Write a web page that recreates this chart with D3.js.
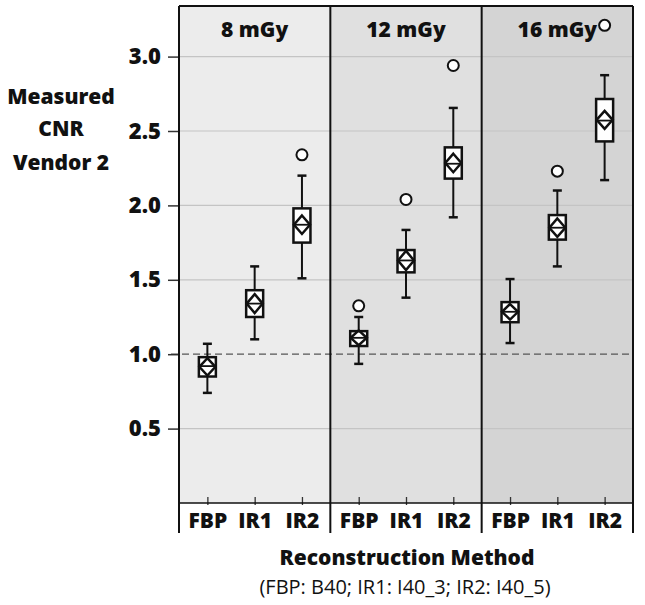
<!DOCTYPE html>
<html>
<head>
<meta charset="utf-8">
<script src="https://cdn.jsdelivr.net/npm/d3@7"></script>
<style>
  html, body { margin: 0; padding: 0; background: #fff; }
  svg { display: block; }
  text { font-family: "Open Sans", sans-serif; fill: #111; }
</style>
</head>
<body>
<svg id="chart" width="645" height="605"></svg>
<script>
// ---- data ----
const doses = ["8 mGy", "12 mGy", "16 mGy"];
const methods = ["FBP", "IR1", "IR2"];
const yTicks = [0.5, 1.0, 1.5, 2.0, 2.5, 3.0];
// per dose, per method (FBP, IR1, IR2)
const whiskerLow  = [[0.74, 1.10, 1.51], [0.935, 1.38, 1.92], [1.075, 1.59, 2.17]];
const q1          = [[0.85, 1.25, 1.75], [1.055, 1.55, 2.18], [1.215, 1.77, 2.43]];
const medians     = [[0.92, 1.34, 1.87], [1.11, 1.63, 2.28], [1.285, 1.85, 2.57]];
const q3          = [[0.98, 1.43, 1.98], [1.155, 1.70, 2.39], [1.35, 1.935, 2.715]];
const whiskerHigh = [[1.07, 1.59, 2.20], [1.25, 1.835, 2.655], [1.505, 2.10, 2.875]];
const means       = [[0.915, 1.34, 1.87], [1.11, 1.63, 2.285], [1.285, 1.85, 2.575]];
const ciHalf      = [[0.058, 0.064, 0.062], [0.05, 0.064, 0.062], [0.052, 0.062, 0.06]];
const outliers    = [[[], [], [2.34]], [[1.325], [2.04], [2.94]], [[], [2.23], [3.21]]];
const referenceLine = 1.0;

// ---- layout ----
const svg = d3.select("#chart");
const L = 179, R = 633, T = 6, B = 503, labelBottom = 533;
const panelBg = ["#ececec", "#e0e0e0", "#d4d4d4"];
const FONT = "'Open Sans', sans-serif";
const BOLD = 800;

const x = d3.scaleBand().domain(doses).range([L, R]).padding(0);
const xi = d3.scalePoint().domain(methods).range([0, x.bandwidth()]).padding(0.6);
const y = d3.scaleLinear().domain([0, 3.34]).range([B, T]);

svg.selectAll("rect.bg").data(doses).join("rect")
  .attr("class", "bg")
  .attr("x", d => x(d)).attr("y", T)
  .attr("width", x.bandwidth()).attr("height", B - T)
  .attr("fill", (d, i) => panelBg[i]);

svg.selectAll("line.grid").data(yTicks.filter(t => t !== referenceLine)).join("line")
  .attr("class", "grid")
  .attr("x1", L).attr("x2", R)
  .attr("y1", d => y(d)).attr("y2", d => y(d))
  .attr("stroke", "#c4c4c4").attr("stroke-width", 1.2);

svg.append("line")
  .attr("x1", L - 8).attr("x2", R)
  .attr("y1", y(referenceLine)).attr("y2", y(referenceLine))
  .attr("stroke", "#555").attr("stroke-width", 1.2)
  .attr("stroke-dasharray", "7,4");

const yAxis = d3.axisLeft(y).tickValues(yTicks).tickFormat(d3.format(".1f"))
  .tickSize(11).tickPadding(7);
const gy = svg.append("g").attr("transform", `translate(${L},0)`).call(yAxis);
gy.select(".domain").remove();
gy.selectAll(".tick line").attr("stroke", "#333").attr("stroke-width", 1.5);
gy.selectAll(".tick text")
  .style("font-family", FONT).style("font-size", "22px")
  .style("font-weight", BOLD).attr("fill", "#111");

doses.forEach((dose, di) => {
  const g = svg.append("g").attr("transform", `translate(${x(dose)},0)`);
  g.append("text")
    .attr("x", x.bandwidth() / 2).attr("y", 37)
    .attr("text-anchor", "middle")
    .style("font-size", "21px").style("font-weight", BOLD)
    .text(dose);

  const xAxis = d3.axisBottom(xi).tickSize(0).tickPadding(10);
  const gx = g.append("g").attr("transform", `translate(0,${B})`).call(xAxis);
  gx.select(".domain").remove();
  gx.selectAll(".tick text")
    .style("font-family", FONT).style("font-size", "21px")
    .style("font-weight", BOLD).attr("fill", "#111");
  gx.selectAll(".tick").append("line")
    .attr("y1", -6).attr("y2", 2).attr("stroke", "#333").attr("stroke-width", 1.3);

  const boxW = 17, capW = 9;
  methods.forEach((m, mi) => {
    const cx = xi(m);
    const bg = g.append("g");
    bg.append("line")
      .attr("x1", cx).attr("x2", cx)
      .attr("y1", y(whiskerLow[di][mi])).attr("y2", y(whiskerHigh[di][mi]))
      .attr("stroke", "#111").attr("stroke-width", 2);
    [whiskerLow[di][mi], whiskerHigh[di][mi]].forEach(v => {
      bg.append("line")
        .attr("x1", cx - capW / 2).attr("x2", cx + capW / 2)
        .attr("y1", y(v)).attr("y2", y(v))
        .attr("stroke", "#111").attr("stroke-width", 2.5);
    });
    bg.append("rect")
      .attr("x", cx - boxW / 2).attr("y", y(q3[di][mi]))
      .attr("width", boxW).attr("height", y(q1[di][mi]) - y(q3[di][mi]))
      .attr("fill", "#fff").attr("stroke", "#111").attr("stroke-width", 2.5);
    const mY = y(means[di][mi]);
    const hT = y(means[di][mi] + ciHalf[di][mi]);
    const hB = y(means[di][mi] - ciHalf[di][mi]);
    const hw = boxW / 2 - 0.5;
    bg.append("path")
      .attr("d", `M${cx},${hT} L${cx + hw},${mY} L${cx},${hB} L${cx - hw},${mY} Z`)
      .attr("fill", "none").attr("stroke", "#111").attr("stroke-width", 2.5)
      .attr("stroke-linejoin", "miter");
    bg.append("line")
      .attr("x1", cx - boxW / 2).attr("x2", cx + boxW / 2)
      .attr("y1", y(medians[di][mi])).attr("y2", y(medians[di][mi]))
      .attr("stroke", "#111").attr("stroke-width", 1.8);
    bg.selectAll("circle").data(outliers[di][mi]).join("circle")
      .attr("cx", cx).attr("cy", d => y(d)).attr("r", 5.5)
      .attr("fill", "#fff").attr("stroke", "#111").attr("stroke-width", 2);
  });
});

svg.append("line").attr("x1", L).attr("x2", R).attr("y1", T).attr("y2", T)
  .attr("stroke", "#111").attr("stroke-width", 2);
svg.append("line").attr("x1", L).attr("x2", R).attr("y1", B).attr("y2", B)
  .attr("stroke", "#111").attr("stroke-width", 1.5);
const seps = doses.map(d => x(d)).concat([R]);
svg.selectAll("line.sep").data(seps).join("line")
  .attr("class", "sep")
  .attr("x1", d => d).attr("x2", d => d)
  .attr("y1", T).attr("y2", labelBottom)
  .attr("stroke", "#111").attr("stroke-width", 2);

const yt = svg.append("text").attr("text-anchor", "middle")
  .style("font-size", "21px").style("font-weight", BOLD);
[["Measured", 104], ["CNR", 136], ["Vendor 2", 170]].forEach(([t, yy]) => {
  yt.append("tspan").attr("x", 61).attr("y", yy).text(t);
});

svg.append("text").attr("x", 407).attr("y", 565).attr("text-anchor", "middle")
  .style("font-size", "21px").style("font-weight", BOLD)
  .text("Reconstruction Method");
svg.append("text").attr("x", 405).attr("y", 594).attr("text-anchor", "middle")
  .style("font-size", "20px")
  .text("(FBP: B40; IR1: I40_3; IR2: I40_5)");
</script>
</body>
</html>
